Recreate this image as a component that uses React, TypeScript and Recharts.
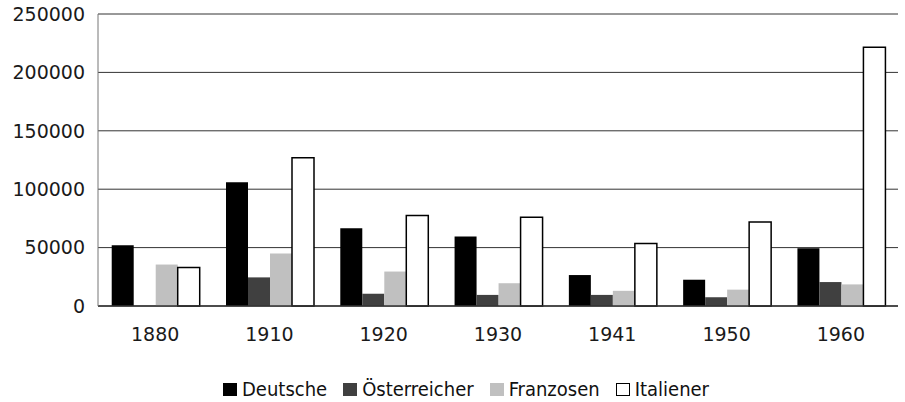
import { BarChart, Bar, XAxis, YAxis, CartesianGrid, Legend } from 'recharts';

const years = ['1880', '1910', '1920', '1930', '1941', '1950', '1960'];
const deutsche = [52000, 106000, 66500, 59500, 26500, 22500, 49500];
const oesterreicher = [0, 24500, 10500, 9500, 9500, 7500, 20500];
const franzosen = [35500, 45000, 29500, 19500, 13000, 14000, 18500];
const italiener = [33000, 127000, 77500, 76000, 53500, 72000, 221500];
const yTicks = [0, 50000, 100000, 150000, 200000, 250000];

const series = [
  { key: 'Deutsche', fill: '#000000', stroke: 'none' },
  { key: 'Österreicher', fill: '#404040', stroke: 'none' },
  { key: 'Franzosen', fill: '#c0c0c0', stroke: 'none' },
  { key: 'Italiener', fill: '#ffffff', stroke: '#000000' },
];

const data = years.map((year, i) => ({
  year,
  Deutsche: deutsche[i],
  'Österreicher': oesterreicher[i],
  Franzosen: franzosen[i],
  Italiener: italiener[i],
}));

const tickFont = { fontFamily: 'DejaVu Sans', fontSize: 19, fill: '#1a1a1a' };

function LegendRow() {
  return (
    <div
      style={{
        display: 'flex',
        justifyContent: 'center',
        alignItems: 'center',
        paddingLeft: 43,
        fontFamily: 'DejaVu Sans Condensed',
        fontSize: 20,
        color: '#111',
      }}
    >
      {series.map((s) => (
        <div key={s.key} style={{ display: 'flex', alignItems: 'center', marginRight: 16 }}>
          <span
            style={{
              display: 'inline-block',
              width: s.stroke === 'none' ? 14 : 12,
              height: s.stroke === 'none' ? 13 : 11,
              background: s.fill,
              border: s.stroke === 'none' ? 'none' : '1px solid #000',
              marginRight: 5,
            }}
          />
          <span>{s.key}</span>
        </div>
      ))}
    </div>
  );
}

export default function App() {
  return (
    <div style={{ position: 'absolute', left: 0, top: 0, width: 905, height: 402, background: '#fff' }}>
      <BarChart
        width={905}
        height={402}
        data={data}
        margin={{ top: 14, right: 7, left: 0, bottom: 32 }}
        barGap={0}
        barCategoryGap="12%"
      >
        <CartesianGrid horizontal vertical={false} stroke="#333" strokeWidth={1} />
        <XAxis
          dataKey="year"
          height={40}
          tickSize={0}
          tickMargin={22}
          tick={tickFont}
          axisLine={{ stroke: '#333', strokeWidth: 1.5 }}
        />
        <YAxis
          width={98}
          domain={[0, 250000]}
          ticks={yTicks}
          tickSize={0}
          tickMargin={13}
          tick={tickFont}
          axisLine={{ stroke: '#777' }}
        />
        <Legend
          content={() => <LegendRow />}
          wrapperStyle={{ position: 'absolute', left: 0, top: 377, width: 905, height: 24 }}
        />
        {series.map((s) => (
          <Bar
            key={s.key}
            dataKey={s.key}
            fill={s.fill}
            stroke={s.stroke}
            strokeWidth={s.stroke === 'none' ? 0 : 1.5}
            isAnimationActive={false}
          />
        ))}
      </BarChart>
    </div>
  );
}
